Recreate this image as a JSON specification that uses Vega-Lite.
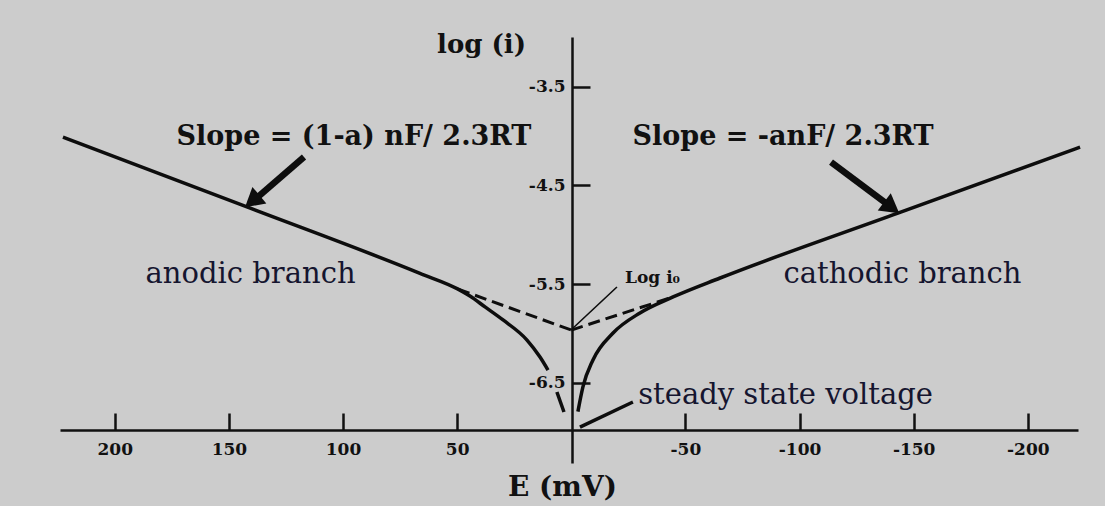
{
  "$schema": "https://vega.github.io/schema/vega-lite/v6.json",
  "width": 1018,
  "height": 426,
  "autosize": "none",
  "padding": {"left": 60, "top": 37, "right": 27, "bottom": 43},
  "background": "#cccccc",
  "config": {"view": {"stroke": null}, "axis": {"grid": false}},
  "datasets": {
    "curves": [
      {"series": "anodic", "E": 222.7, "logi": -4.01},
      {"series": "anodic", "E": 142.1, "logi": -4.718},
      {"series": "anodic", "E": 66.3, "logi": -5.39},
      {"series": "anodic", "E": 49.6, "logi": -5.55},
      {"series": "anodic", "E": 44.4, "logi": -5.62},
      {"series": "anodic", "E": 37.8, "logi": -5.73},
      {"series": "anodic", "E": 29.9, "logi": -5.862},
      {"series": "anodic", "E": 19.4, "logi": -6.065},
      {"series": "anodic", "E": 13.7, "logi": -6.237},
      {"series": "anodic", "E": 10.2, "logi": -6.369},
      {"series": "anodic_tail", "E": 6.3, "logi": -6.591},
      {"series": "anodic_tail", "E": 3.2, "logi": -6.794},
      {"series": "cathodic", "E": -2.9, "logi": -6.79},
      {"series": "cathodic", "E": -5.1, "logi": -6.54},
      {"series": "cathodic", "E": -9.5, "logi": -6.267},
      {"series": "cathodic", "E": -18.3, "logi": -5.994},
      {"series": "cathodic", "E": -30.1, "logi": -5.791},
      {"series": "cathodic", "E": -44.6, "logi": -5.629},
      {"series": "cathodic", "E": -65.2, "logi": -5.437},
      {"series": "cathodic", "E": -143.1, "logi": -4.78},
      {"series": "cathodic", "E": -222.9, "logi": -4.112},
      {"series": "anodic_tafel", "E": 49.6, "logi": -5.55},
      {"series": "anodic_tafel", "E": 0, "logi": -5.964},
      {"series": "cathodic_tafel", "E": 0, "logi": -5.964},
      {"series": "cathodic_tafel", "E": -44.6, "logi": -5.629},
      {"series": "ptr_i0", "E": -0.8, "logi": -5.943},
      {"series": "ptr_i0", "E": -20.0, "logi": -5.528},
      {"series": "ptr_ss", "E": -3.8, "logi": -6.946},
      {"series": "ptr_ss", "E": -27.0, "logi": -6.692},
      {"series": "arrow_left", "E": 117.1, "logi": -4.212},
      {"series": "arrow_left", "E": 138.5, "logi": -4.64},
      {"series": "arrow_right", "E": -113.8, "logi": -4.263},
      {"series": "arrow_right", "E": -139.0, "logi": -4.70},
      {"series": "head_left", "E": 139.8, "logi": -4.66},
      {"series": "head_right", "E": -140.4, "logi": -4.724}
    ],
    "labels": [
      {"kind": "slope", "label": "Slope = (1-a) nF/ 2.3RT", "E": 95.2, "logi": -4.09},
      {"kind": "slope", "label": "Slope = -anF/ 2.3RT", "E": -92.8, "logi": -4.09},
      {"kind": "branch", "label": "anodic branch", "E": 140.5, "logi": -5.488},
      {"kind": "branch", "label": "cathodic branch", "E": -145.1, "logi": -5.488},
      {"kind": "branch", "label": "steady state voltage", "E": -93.9, "logi": -6.713},
      {"kind": "small", "label": "Log i₀", "E": -35.6, "logi": -5.488}
    ]
  },
  "encoding": {
    "x": {
      "field": "E",
      "type": "quantitative",
      "scale": {"domain": [224, -222], "nice": false, "zero": false},
      "axis": {
        "orient": "bottom",
        "offset": -33,
        "values": [200, 150, 100, 50, -50, -100, -150, -200],
        "labelExpr": "datum.value < 0 ? '-' + abs(datum.value) : '' + datum.value",
        "tickSize": -17,
        "tickWidth": 2.5,
        "tickColor": "#111111",
        "domainColor": "#111111",
        "domainWidth": 2.5,
        "labelFont": "DejaVu Serif",
        "labelFontWeight": "bold",
        "labelFontSize": 17,
        "labelColor": "#111111",
        "labelPadding": 28,
        "labelBaseline": "top",
        "labelFlush": false,
        "labelOverlap": false,
        "title": "E (mV)",
        "titleFont": "DejaVu Serif",
        "titleFontWeight": "bold",
        "titleFontSize": 28,
        "titleColor": "#111111",
        "titleX": 502,
        "titleY": 65,
        "titleBaseline": "alphabetic",
        "titleAlign": "center"
      }
    },
    "y": {
      "field": "logi",
      "type": "quantitative",
      "scale": {"domain": [-7.31, -2.997], "nice": false, "zero": false},
      "axis": {
        "orient": "left",
        "offset": -512,
        "values": [-3.5, -4.5, -5.5, -6.5],
        "labelExpr": "'-' + format(abs(datum.value), '.1f')",
        "tickSize": -18,
        "tickWidth": 2.5,
        "tickColor": "#111111",
        "domainColor": "#111111",
        "domainWidth": 2.5,
        "labelFont": "DejaVu Serif",
        "labelFontWeight": "bold",
        "labelFontSize": 17,
        "labelColor": "#111111",
        "labelPadding": 25,
        "labelFlush": false,
        "labelOverlap": false,
        "title": "log (i)",
        "titleFont": "DejaVu Serif",
        "titleFontWeight": "bold",
        "titleFontSize": 26,
        "titleColor": "#111111",
        "titleAngle": 0,
        "titleX": -91,
        "titleY": 15,
        "titleBaseline": "alphabetic",
        "titleAlign": "center"
      }
    }
  },
  "layer": [
    {
      "data": {"name": "curves"},
      "transform": [{"filter": {"field": "series", "oneOf": ["anodic", "anodic_tail", "cathodic"]}}],
      "mark": {"type": "line", "color": "#0d0d0d", "strokeWidth": 3.5, "interpolate": "monotone"},
      "encoding": {"detail": {"field": "series"}, "order": {"field": "E", "sort": "descending"}}
    },
    {
      "data": {"name": "curves"},
      "transform": [{"filter": {"field": "series", "oneOf": ["anodic_tafel", "cathodic_tafel"]}}],
      "mark": {"type": "line", "color": "#0d0d0d", "strokeWidth": 3, "strokeDash": [12, 6]},
      "encoding": {"detail": {"field": "series"}, "order": {"field": "E", "sort": "descending"}}
    },
    {
      "data": {"name": "curves"},
      "transform": [{"filter": {"field": "series", "equal": "ptr_i0"}}],
      "mark": {"type": "line", "color": "#0d0d0d", "strokeWidth": 1.6},
      "encoding": {"detail": {"field": "series"}}
    },
    {
      "data": {"name": "curves"},
      "transform": [{"filter": {"field": "series", "equal": "ptr_ss"}}],
      "mark": {"type": "line", "color": "#0d0d0d", "strokeWidth": 3.5},
      "encoding": {"detail": {"field": "series"}}
    },
    {
      "data": {"name": "curves"},
      "transform": [{"filter": {"field": "series", "oneOf": ["arrow_left", "arrow_right"]}}],
      "mark": {"type": "line", "color": "#0d0d0d", "strokeWidth": 6.5, "strokeCap": "butt"},
      "encoding": {"detail": {"field": "series"}}
    },
    {
      "data": {"name": "curves"},
      "transform": [{"filter": {"field": "series", "equal": "head_left"}}],
      "mark": {"type": "point", "shape": "triangle-up", "filled": true, "angle": 230, "size": 470, "color": "#0d0d0d", "opacity": 1}
    },
    {
      "data": {"name": "curves"},
      "transform": [{"filter": {"field": "series", "equal": "head_right"}}],
      "mark": {"type": "point", "shape": "triangle-up", "filled": true, "angle": 127, "size": 470, "color": "#0d0d0d", "opacity": 1}
    },
    {
      "data": {"name": "labels"},
      "transform": [{"filter": {"field": "kind", "equal": "slope"}}],
      "mark": {"type": "text", "font": "DejaVu Serif", "fontWeight": "bold", "fontSize": 27, "align": "center", "baseline": "alphabetic", "color": "#111111"},
      "encoding": {"text": {"field": "label"}}
    },
    {
      "data": {"name": "labels"},
      "transform": [{"filter": {"field": "kind", "equal": "branch"}}],
      "mark": {"type": "text", "font": "DejaVu Serif", "fontSize": 29, "align": "center", "baseline": "alphabetic", "color": "#15152f"},
      "encoding": {"text": {"field": "label"}}
    },
    {
      "data": {"name": "labels"},
      "transform": [{"filter": {"field": "kind", "equal": "small"}}],
      "mark": {"type": "text", "font": "DejaVu Serif", "fontWeight": "bold", "fontSize": 17, "align": "center", "baseline": "alphabetic", "color": "#111111"},
      "encoding": {"text": {"field": "label"}}
    }
  ]
}
